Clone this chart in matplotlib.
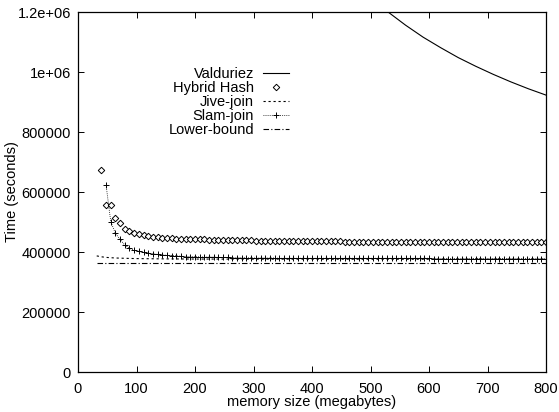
import matplotlib
matplotlib.use("Agg")
import matplotlib.pyplot as plt

plt.rcParams['font.family'] = ['Liberation Sans', 'DejaVu Sans']

# Valduriez (solid line, only upper-right part visible)
val_mem = [500, 530, 560, 590, 620, 650, 680, 710, 740, 770, 800]
val_time = [1249000, 1200000, 1156000, 1116000, 1081000, 1048000, 1019000, 992000, 967000, 944000, 923000]

# Hybrid Hash (diamond markers, every 8 MB from 40 to 800)
hh_mem = list(range(40, 801, 8))
hh_time = [673000, 557000, 557000, 513000, 497000, 476000, 470000, 464000, 459000, 456000,
           453000, 451000, 449000, 448000, 447000, 446000, 445000, 444000, 444000, 443000,
           443000, 442000, 442000, 441000, 441000, 441000, 440000, 440000, 440000, 439000,
           439000, 439000, 439000, 438000, 438000, 438000, 438000, 438000, 437000, 437000,
           437000, 437000, 437000, 437000, 436000, 436000, 436000, 436000, 436000, 436000,
           436000, 436000, 435000, 435000, 435000, 435000, 435000, 435000, 435000, 435000,
           435000, 435000, 435000, 434000, 434000, 434000, 434000, 434000, 434000, 434000,
           434000, 434000, 434000, 434000, 434000, 434000, 434000, 434000, 433000, 433000,
           433000, 433000, 433000, 433000, 433000, 433000, 433000, 433000, 433000, 433000,
           433000, 433000, 433000, 433000, 433000, 433000]

# Jive-join (dotted line)
jive_mem = [32, 40, 48, 64, 80, 100, 150, 200, 400, 800]
jive_time = [387000, 384000, 382000, 380000, 379000, 378000, 377000, 376500, 376000, 375500]

# Slam-join (dotted line with + markers, every 8 MB from 48 to 800)
slam_mem = list(range(48, 801, 8))
slam_time = [623000, 501000, 462000, 442000, 423000, 412000, 406000, 402000, 399000, 396000,
             394000, 392000, 390000, 389000, 388000, 387000, 386000, 385000, 385000, 384000,
             384000, 383000, 383000, 383000, 382000, 382000, 382000, 381000, 381000, 381000,
             381000, 380000, 380000, 380000, 380000, 380000, 380000, 379000, 379000, 379000,
             379000, 379000, 379000, 379000, 379000, 379000, 379000, 379000, 379000, 379000,
             379000, 379000, 379000, 379000, 379000, 379000, 379000, 379000, 379000, 379000,
             379000, 379000, 379000, 379000, 379000, 379000, 379000, 379000, 379000, 379000,
             378000, 378000, 378000, 378000, 378000, 378000, 378000, 378000, 378000, 378000,
             378000, 378000, 378000, 378000, 378000, 378000, 378000, 378000, 378000, 378000,
             378000, 378000, 378000, 378000, 378000]

# Lower-bound (dash-dot line)
lb_mem = [32, 800]
lb_time = [362000, 362000]

xticks = [0, 100, 200, 300, 400, 500, 600, 700, 800]
yticks = [0, 200000, 400000, 600000, 800000, 1000000, 1200000]
ytick_labels = ['0', '200000', '400000', '600000', '800000', '1e+06', '1.2e+06']

fig = plt.figure(figsize=(5.59, 4.12), dpi=100)
ax = fig.add_axes([78/559, 1-372/412, (546-78)/559, (372-12)/412])

lw = 0.8
ax.plot(val_mem, val_time, color='black', lw=lw, linestyle='-', label='Valduriez')
ax.plot(hh_mem, hh_time, color='black', linestyle='none', marker='D', markersize=3.3,
        markerfacecolor='white', markeredgewidth=0.7, label='Hybrid Hash')
ax.plot(jive_mem, jive_time, color='black', lw=lw, linestyle=(0, (2, 2.5)), label='Jive-join')
ax.plot(slam_mem, slam_time, color='black', lw=0.6, linestyle=(0, (1, 1.5)), marker='+',
        markersize=5, markeredgewidth=0.7, label='Slam-join')
ax.plot(lb_mem, lb_time, color='black', lw=lw, linestyle=(0, (5, 2, 1, 2)), label='Lower-bound')

ax.set_xlim(0, 800)
ax.set_ylim(0, 1200000)
ax.set_xticks(xticks)
ax.set_yticks(yticks)
ax.set_yticklabels(ytick_labels)
ax.tick_params(direction='in', top=True, right=True, length=4, width=0.7, labelsize=10.5)
ax.tick_params(axis='y', pad=5)
ax.tick_params(axis='x', pad=7.5)
for s in ax.spines.values():
    s.set_linewidth(0.9)

ax.set_xlabel('memory size (megabytes)', fontsize=10.5)
ax.set_ylabel('Time (seconds)', fontsize=10.5)
ax.xaxis.set_label_coords(0.5, -0.064)
ax.yaxis.set_label_coords(-0.125, 0.5)

leg = ax.legend(loc='upper right', bbox_to_anchor=(289/559, 1-67/412),
                bbox_transform=fig.transFigure, frameon=False, markerfirst=False,
                fontsize=10.5, labelspacing=0.0, handlelength=1.8, handletextpad=0.6,
                borderpad=0, borderaxespad=0, numpoints=1)
for t in leg.get_texts():
    t.set_ha('right')
leg._legend_box.align = 'right'

fig.savefig('out.png', dpi=100)
